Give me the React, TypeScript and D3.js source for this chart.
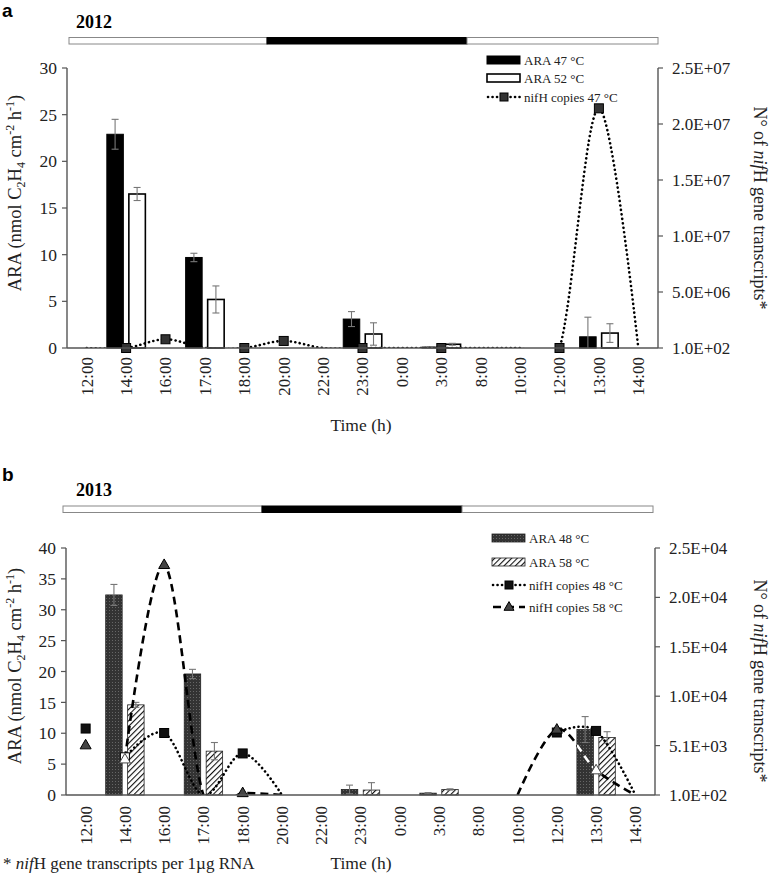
import React from "react";
import * as d3 from "d3";

const categories = ["12:00", "14:00", "16:00", "17:00", "18:00", "20:00", "22:00", "23:00", "0:00", "3:00", "8:00", "10:00", "12:00", "13:00", "14:00"];

// Panel a (2012)
const ara47 = [null, 22.9, null, 9.7, null, null, null, 3.1, null, 0.1, null, null, null, 1.2, null];
const ara47Err = [null, 1.6, null, 0.45, null, null, null, 0.8, null, 0.05, null, null, null, 2.1, null];
const ara52 = [null, 16.5, null, 5.2, null, null, null, 1.5, null, 0.4, null, null, null, 1.6, null];
const ara52Err = [null, 0.7, null, 1.45, null, null, null, 1.2, null, 0.1, null, null, null, 1.0, null];
const nifh47Line = [100, 100, 7.8e5, 100, 100, 6.3e5, 100, 100, 100, 100, 100, 100, 100, 2.14e7, 100];
const nifh47Marks = [null, 100, 7.8e5, null, 100, 6.3e5, null, 100, null, 100, null, null, 100, 2.14e7, null];
const rightLabelsA = ["1.0E+02", "5.0E+06", "1.0E+07", "1.5E+07", "2.0E+07", "2.5E+07"];

// Panel b (2013)
const ara48 = [null, 32.4, null, 19.6, null, null, null, 0.9, null, 0.3, null, null, null, 10.6, null];
const ara48Err = [null, 1.7, null, 0.75, null, null, null, 0.7, null, 0.1, null, null, null, 2.1, null];
const ara58 = [null, 14.6, null, 7.1, null, null, null, 0.8, null, 0.9, null, null, null, 9.3, null];
const ara58Err = [null, 0.4, null, 1.4, null, null, null, 1.2, null, 0.1, null, null, null, 0.95, null];
const nifh48Line = [null, 3900, 6350, 100, 4290, 100, null, null, null, null, null, null, 6400, 6560, 100];
const nifh48Marks = [6800, 3900, 6350, null, 4290, null, null, null, null, null, null, null, 6400, 6560, null];
const nifh58Line = [null, 3700, 23300, 100, 300, 100, null, null, null, null, null, 100, 6700, 2600, 100];
const nifh58Marks = [5120, 3700, 23300, null, 300, null, null, null, null, null, null, null, 6700, 2600, null];
const rightLabelsB = ["1.0E+02", "5.1E+03", "1.0E+04", "1.5E+04", "2.0E+04", "2.5E+04"];

const SERIF = "'Liberation Serif', 'Times New Roman', serif";
const SANS = "'Liberation Sans', Arial, sans-serif";
const AXIS = "#555";
const TICK_FS = 17;

type Bar = { values: (number | null)[]; errs: (number | null)[]; fill: string; stroke: string; sw: number };
type Ln = { line: (number | null)[]; marks: (number | null)[]; dash: string; cap: string; shape: "square" | "triangle"; light: number[] };

type Panel = {
  id: string;
  letter: string; letterY: number;
  year: string; yearY: number;
  dayBar: { y: number; segs: [number, number, string][] };
  left: number; right: number; top: number; bottom: number;
  yMax: number; nTicks: number;
  rMin: number; rMax: number; rLabels: string[];
  bars: Bar[]; lines: Ln[];
  whiteCats: number[];
  legend: { x: number; rows: number[]; items: { label: string; kind: string; idx: number }[] };
  yTitleY: number; rTitleY: number; xLabelTop: number; timeY: number;
};

const panels: Panel[] = [
  {
    id: "a", letter: "a", letterY: 17, year: "2012", yearY: 28,
    dayBar: { y: 37.5, segs: [[69, 267, "#fff"], [267, 467, "#000"], [467, 658, "#fff"]] },
    left: 67, right: 658, top: 68, bottom: 348,
    yMax: 30, nTicks: 6,
    rMin: 100, rMax: 2.5e7, rLabels: rightLabelsA,
    bars: [
      { values: ara47, errs: ara47Err, fill: "#000", stroke: "#000", sw: 1 },
      { values: ara52, errs: ara52Err, fill: "#fff", stroke: "#000", sw: 1.6 },
    ],
    lines: [
      { line: nifh47Line, marks: nifh47Marks, dash: "0.1 4.4", cap: "round", shape: "square", light: [] },
    ],
    whiteCats: [],
    legend: {
      x: 487, rows: [60, 78, 97],
      items: [
        { label: "ARA 47 °C", kind: "bar", idx: 0 },
        { label: "ARA 52 °C", kind: "bar", idx: 1 },
        { label: "nifH copies 47 °C", kind: "line", idx: 0 },
      ],
    },
    yTitleY: 193, rTitleY: 208, xLabelTop: 357, timeY: 431,
  },
  {
    id: "b", letter: "b", letterY: 481, year: "2013", yearY: 496,
    dayBar: { y: 506, segs: [[63, 262, "#fff"], [262, 462, "#000"], [462, 653, "#fff"]] },
    left: 66, right: 655, top: 548, bottom: 795,
    yMax: 40, nTicks: 8,
    rMin: 100, rMax: 25000, rLabels: rightLabelsB,
    bars: [
      { values: ara48, errs: ara48Err, fill: "url(#stipple)", stroke: "#222", sw: 0.8 },
      { values: ara58, errs: ara58Err, fill: "url(#hatch)", stroke: "#222", sw: 0.8 },
    ],
    lines: [
      { line: nifh48Line, marks: nifh48Marks, dash: "0.1 4.4", cap: "round", shape: "square", light: [1] },
      { line: nifh58Line, marks: nifh58Marks, dash: "8 5", cap: "butt", shape: "triangle", light: [1, 13] },
    ],
    whiteCats: [1, 13],
    legend: {
      x: 492, rows: [538, 562, 585, 607],
      items: [
        { label: "ARA 48 °C", kind: "bar", idx: 0 },
        { label: "ARA 58 °C", kind: "bar", idx: 1 },
        { label: "nifH copies 48 °C", kind: "line", idx: 0 },
        { label: "nifH copies 58 °C", kind: "line", idx: 1 },
      ],
    },
    yTitleY: 666, rTitleY: 681, xLabelTop: 806, timeY: 869,
  },
];

function marker(shape: string, x: number, y: number, fill: string, key: string, size = 9) {
  if (shape === "square") {
    return <rect key={key} x={x - size / 2} y={y - size / 2} width={size} height={size} fill={fill} stroke="#000" strokeWidth={1} />;
  }
  const s = size + 2;
  const h = s * 0.87;
  return (
    <path key={key} d={`M${x},${y - h * 0.62}L${x + s / 2},${y + h * 0.38}L${x - s / 2},${y + h * 0.38}Z`} fill={fill} stroke={fill === "#fff" ? "#444" : "#000"} strokeWidth={1} />
  );
}

function renderPanel(p: Panel) {
  const idx = categories.map((_, i) => String(i));
  const x = d3.scaleBand<string>().domain(idx).range([p.left, p.right]).padding(0);
  const bw = x.bandwidth();
  const sub = d3.scaleBand<string>().domain(["0", "1"]).range([0, bw]).paddingInner(0.25).paddingOuter(0.02);
  const y = d3.scaleLinear().domain([0, p.yMax]).range([p.bottom, p.top]);
  const yr = d3.scaleLinear().domain([p.rMin, p.rMax]).range([p.bottom, p.top]);
  const cx = (i: number) => (x(String(i)) as number) + bw / 2;

  const lineGen = d3
    .line<number | null>()
    .defined((d) => d !== null)
    .x((_, i) => cx(i))
    .y((d) => yr(d as number))
    .curve(d3.curveCardinal.tension(0));

  const rTickVals = p.rLabels.map((_, i) => p.rMin + (i * (p.rMax - p.rMin)) / (p.rLabels.length - 1));
  const clipId = `plot-${p.id}`;
  const whiteId = `white-${p.id}`;

  return (
    <g key={p.id}>
      <defs>
        <clipPath id={clipId}>
          <rect x={p.left} y={p.top - 30} width={p.right - p.left} height={p.bottom - p.top + 30} />
        </clipPath>
        <clipPath id={whiteId}>
          {p.whiteCats.map((c) => {
            const v = p.bars[0].values[c] as number;
            return <rect key={c} x={(x(String(c)) as number) + (sub("0") as number)} y={y(v)} width={sub.bandwidth()} height={p.bottom - y(v)} />;
          })}
        </clipPath>
      </defs>

      {/* panel letter and year */}
      <text x={2} y={p.letterY} fontFamily={SANS} fontWeight="bold" fontSize={19}>{p.letter}</text>
      <text x={76} y={p.yearY} fontFamily={SERIF} fontWeight="bold" fontSize={18}>{p.year}</text>

      {/* day/night bar */}
      {p.dayBar.segs.map(([x0, x1, f], i) => (
        <rect key={i} x={x0} y={p.dayBar.y} width={x1 - x0} height={6.5} fill={f} stroke={f === "#000" ? "#000" : "#888"} strokeWidth={1} />
      ))}

      {/* bars */}
      {p.bars.map((b, si) =>
        b.values.map((v, i) =>
          v === null ? null : (
            <rect
              key={`b${si}-${i}`}
              x={(x(String(i)) as number) + (sub(String(si)) as number)}
              y={y(v)}
              width={sub.bandwidth()}
              height={p.bottom - y(v)}
              fill={b.fill}
              stroke={b.stroke}
              strokeWidth={b.sw}
            />
          )
        )
      )}

      {/* error bars */}
      {p.bars.map((b, si) =>
        b.values.map((v, i) => {
          const e = b.errs[i];
          if (v === null || e === null) return null;
          const ex = (x(String(i)) as number) + (sub(String(si)) as number) + sub.bandwidth() / 2;
          return (
            <g key={`e${si}-${i}`} stroke="#777" strokeWidth={1.1}>
              <line x1={ex} x2={ex} y1={y(v + e)} y2={y(Math.max(0, v - e))} />
              <line x1={ex - 3.5} x2={ex + 3.5} y1={y(v + e)} y2={y(v + e)} />
              {v - e > 0 ? <line x1={ex - 3.5} x2={ex + 3.5} y1={y(v - e)} y2={y(v - e)} /> : null}
            </g>
          );
        })
      )}

      {/* lines */}
      <g clipPath={`url(#${clipId})`}>
        {p.lines.map((l, li) => (
          <path key={`l${li}`} d={lineGen(l.line) || ""} fill="none" stroke="#000" strokeWidth={2.6} strokeDasharray={l.dash} strokeLinecap={l.cap as any} />
        ))}
      </g>
      {p.whiteCats.length > 0 ? (
        <g clipPath={`url(#${whiteId})`}>
          {p.lines.map((l, li) => (
            <path key={`lw${li}`} d={lineGen(l.line) || ""} fill="none" stroke="#fff" strokeWidth={2.6} strokeDasharray={l.dash} strokeLinecap={l.cap as any} />
          ))}
        </g>
      ) : null}

      {/* markers */}
      {p.lines.map((l, li) =>
        l.marks.map((m, i) =>
          m === null ? null : marker(l.shape, cx(i), yr(m), l.light.includes(i) ? "#fff" : l.shape === "square" ? (p.id === "a" ? "#333" : "#111") : "#444", `m${li}-${i}`)
        )
      )}

      {/* left axis */}
      <line x1={p.left} x2={p.left} y1={p.top} y2={p.bottom} stroke={AXIS} strokeWidth={1.4} />
      {y.ticks(p.nTicks).map((t) => (
        <g key={`yt${t}`}>
          <line x1={p.left - 5} x2={p.left} y1={y(t)} y2={y(t)} stroke={AXIS} strokeWidth={1.2} />
          <text x={p.left - 10} y={y(t)} dy="0.35em" textAnchor="end" fontFamily={SERIF} fontSize={TICK_FS + 0.5} fill="#222">{t}</text>
        </g>
      ))}

      {/* right axis */}
      <line x1={p.right} x2={p.right} y1={p.top} y2={p.bottom} stroke={AXIS} strokeWidth={1.4} />
      {rTickVals.map((t, i) => (
        <g key={`rt${i}`}>
          <line x1={p.right} x2={p.right + 5} y1={yr(t)} y2={yr(t)} stroke={AXIS} strokeWidth={1.2} />
          <text x={p.right + 14} y={yr(t)} dy="0.35em" fontFamily={SERIF} fontSize={TICK_FS} fill="#222">{p.rLabels[i]}</text>
        </g>
      ))}

      {/* x axis */}
      <line x1={p.left} x2={p.right} y1={p.bottom} y2={p.bottom} stroke={AXIS} strokeWidth={1.4} />
      {categories.map((c, i) => (
        <text key={`xl${i}`} transform={`translate(${cx(i)},${p.xLabelTop}) rotate(-90)`} dy="0.35em" textAnchor="end" fontFamily={SERIF} fontSize={TICK_FS} fill="#222">{c}</text>
      ))}

      {/* titles */}
      <text transform={`translate(21,${p.yTitleY}) rotate(-90)`} textAnchor="middle" fontFamily={SERIF} fontSize={18.5} fill="#222">
        ARA (nmol C<tspan fontSize={12} dy={4}>2</tspan>
        <tspan dy={-4}>H</tspan>
        <tspan fontSize={12} dy={4}>4</tspan>
        <tspan dy={-4}> cm</tspan>
        <tspan fontSize={12} dy={-7}>-2</tspan>
        <tspan dy={7}> h</tspan>
        <tspan fontSize={12} dy={-7}>-1</tspan>
        <tspan dy={7}>)</tspan>
      </text>
      <text transform={`translate(754,${p.rTitleY}) rotate(90)`} textAnchor="middle" fontFamily={SERIF} fontSize={18} fill="#222">
        N° of <tspan fontStyle="italic">nif</tspan>H gene transcripts*
      </text>
      <text x={361} y={p.timeY} textAnchor="middle" fontFamily={SERIF} fontSize={17.5} fill="#222">Time (h)</text>

      {/* legend */}
      {p.legend.items.map((it, k) => {
        const ry = p.legend.rows[k];
        const lx = p.legend.x;
        if (it.kind === "bar") {
          const b = p.bars[it.idx];
          return (
            <g key={`lg${k}`}>
              <rect x={lx} y={ry - 4} width={33} height={8} fill={b.fill} stroke={b.stroke} strokeWidth={b.sw} />
              <text x={lx + 37} y={ry} dy="0.35em" fontFamily={SERIF} fontSize={13} fill="#222">{it.label}</text>
            </g>
          );
        }
        const l = p.lines[it.idx];
        return (
          <g key={`lg${k}`}>
            <line x1={lx + 1} x2={lx + 33} y1={ry} y2={ry} stroke="#000" strokeWidth={2.6} strokeDasharray={l.dash} strokeLinecap={l.cap as any} />
            {marker(l.shape, lx + 17, ry, l.shape === "square" ? (p.id === "a" ? "#333" : "#111") : "#444", `lgm${k}`, 8)}
            <text x={lx + 37} y={ry} dy="0.35em" fontFamily={SERIF} fontSize={13} fill="#222">{it.label}</text>
          </g>
        );
      })}
    </g>
  );
}

export default function App() {
  return (
    <svg width={772} height={878} viewBox="0 0 772 878" style={{ position: "absolute", left: 0, top: 0, background: "#fff" }}>
      <defs>
        <pattern id="stipple" width={3} height={3} patternUnits="userSpaceOnUse">
          <rect width={3} height={3} fill="#333" />
          <rect x={1} y={1} width={1} height={1} fill="#666" />
        </pattern>
        <pattern id="hatch" width={4} height={4} patternUnits="userSpaceOnUse" patternTransform="rotate(45)">
          <rect width={4} height={4} fill="#fff" />
          <line x1={0} y1={0} x2={0} y2={4} stroke="#111" strokeWidth={2.2} />
        </pattern>
      </defs>
      <rect width={772} height={878} fill="#fff" />
      {panels.map((p) => renderPanel(p))}
      <text x={3} y={869} fontFamily={SERIF} fontSize={17} fill="#222">
        * <tspan fontStyle="italic">nif</tspan>H gene transcripts per 1µg RNA
      </text>
    </svg>
  );
}
